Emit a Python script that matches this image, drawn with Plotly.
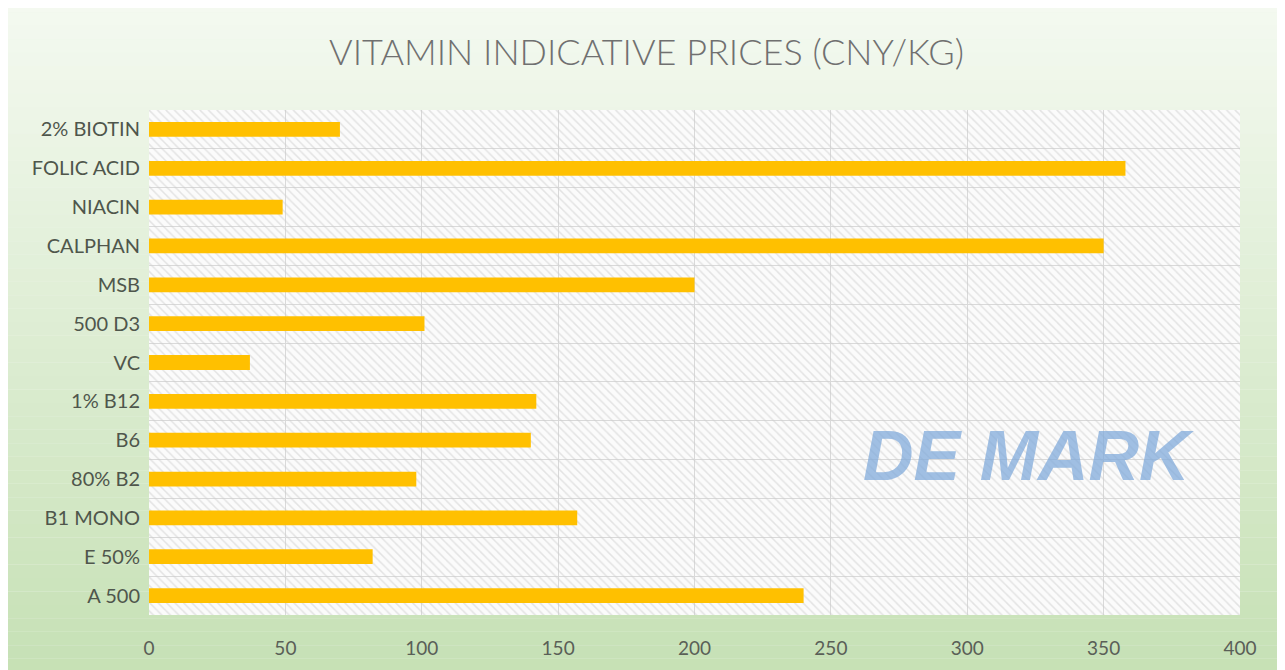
import plotly.graph_objects as go

# ---- data (top to bottom as shown) ----
categories = ["2% BIOTIN", "FOLIC ACID", "NIACIN", "CALPHAN", "MSB", "500 D3", "VC",
              "1% B12", "B6", "80% B2", "B1 MONO", "E 50%", "A 500"]
prices = [70, 358, 49, 350, 200, 101, 37, 142, 140, 98, 157, 82, 240]
x_ticks = [0, 50, 100, 150, 200, 250, 300, 350, 400]
x_max = 400
title_text = "VITAMIN INDICATIVE PRICES (CNY/KG)"

# page body has an 8px margin, so the figure is sized to fill the rest of the window
W, H = 1277, 662
fig = go.Figure()

# hatched plot-area background
fig.add_trace(go.Bar(
    y=categories, x=[x_max] * len(categories), orientation="h", width=1.0,
    marker=dict(color="rgba(255,255,255,0)", line=dict(width=0),
                pattern=dict(shape="\\", fgcolor="#cbcbcb", bgcolor="rgba(255,255,255,0)",
                             size=6, solidity=0.25)),
    hoverinfo="skip", showlegend=False))

# data bars
fig.add_trace(go.Bar(
    y=categories, x=prices, orientation="h", width=0.38,
    marker=dict(color="#FFC000", line=dict(width=0)),
    showlegend=False))

# gradient background via strips
n = 60
shapes = []
top = (247, 251, 244)
bot = (192, 221, 173)
for i in range(n):
    t = i / (n - 1)
    c = tuple(int(round(top[k] + (bot[k] - top[k]) * t)) for k in range(3))
    shapes.append(dict(type="rect", xref="paper", yref="paper", layer="below",
                       x0=-0.2, x1=1.2, y0=1.3 - (i + 1) * 1.6 / n, y1=1.3 - i * 1.6 / n,
                       fillcolor="rgb(%d,%d,%d)" % c, line=dict(width=0)))
# white plot area
shapes.append(dict(type="rect", xref="x", yref="paper", layer="below",
                   x0=0, x1=x_max, y0=0, y1=1, fillcolor="#fbfbfb", line=dict(width=0)))

fig.update_layout(
    width=W, height=H,
    barmode="overlay",
    paper_bgcolor="#eef5ea",
    plot_bgcolor="rgba(0,0,0,0)",
    margin=dict(l=141, r=45, t=102, b=55),
    shapes=shapes,
    title=dict(text=title_text, x=0.5, xanchor="center", y=0.933, yanchor="middle",
               font=dict(family="Lato, 'Open Sans', sans-serif", size=36, color="#707070",
                         weight=300)),
    font=dict(family="Lato, 'Open Sans', sans-serif", color="#5a5f57"),
    xaxis=dict(range=[0, x_max], tickvals=x_ticks, showgrid=True, gridcolor="#d9d9d9",
               gridwidth=1, zeroline=False, showline=False,
               ticks="outside", ticklen=16, tickcolor="rgba(0,0,0,0)",
               tickfont=dict(size=19, color="#5a5f57"), fixedrange=True),
    yaxis=dict(categoryorder="array", categoryarray=categories, autorange="reversed",
               tickson="boundaries", showgrid=True, gridcolor="#d9d9d9", gridwidth=1,
               showline=False, zeroline=False,
               ticks="", ticklabelstandoff=8,
               tickfont=dict(size=20, color="#4f564c"), fixedrange=True),
    annotations=[dict(text="<b><i>DE MARK</i></b>", xref="paper", yref="paper",
                      x=0.806, y=0.315, xanchor="center", yanchor="middle", showarrow=False,
                      font=dict(family="Liberation Sans, Arial, sans-serif", size=70,
                                color="rgba(125,168,218,0.72)"))],
)

fig.write_html("out.html")
